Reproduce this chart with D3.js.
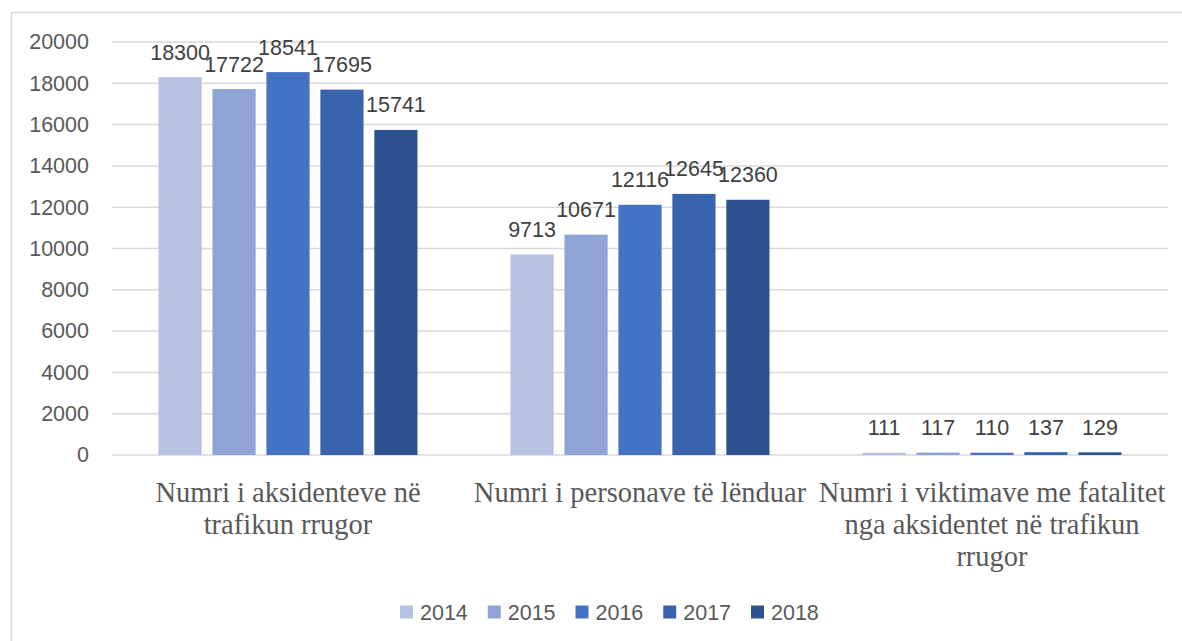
<!DOCTYPE html>
<html>
<head>
<meta charset="utf-8">
<script src="https://cdn.jsdelivr.net/npm/d3@7"></script>
<style>
  html, body { margin: 0; padding: 0; background: #ffffff; }
  svg { display: block; }
</style>
</head>
<body>
<svg id="chart" width="1182" height="641"></svg>
<script>
const categories = [
  "Numri i aksidenteve në\ntrafikun rrugor",
  "Numri i personave të lënduar",
  "Numri i viktimave me fatalitet\nnga aksidentet në trafikun\nrrugor"
];
const years = ["2014", "2015", "2016", "2017", "2018"];
const values2014 = [18300, 9713, 111];
const values2015 = [17722, 10671, 117];
const values2016 = [18541, 12116, 110];
const values2017 = [17695, 12645, 137];
const values2018 = [15741, 12360, 129];
const yTicks = [0, 2000, 4000, 6000, 8000, 10000, 12000, 14000, 16000, 18000, 20000];
const colors = ["#b7c2e3", "#8fa4d5", "#4472c4", "#3a63ad", "#2f5290"];

const series = [values2014, values2015, values2016, values2017, values2018];

const svg = d3.select("#chart");
const sansFont = "'Liberation Sans', Arial, sans-serif";
const numSize = 21.5;

// outer border of the chart area
svg.append("rect")
  .attr("x", 11.5).attr("y", 12.5)
  .attr("width", 1200).attr("height", 700)
  .attr("fill", "none").attr("stroke", "#d9d9d9").attr("stroke-width", 1.5);

const x0 = d3.scaleBand().domain(categories).range([112, 1168]).padding(0);
const groupPad = 46.5;
const x1 = d3.scaleBand().domain(years)
  .range([groupPad, x0.bandwidth() - groupPad])
  .paddingInner(0.2).paddingOuter(0);
const y = d3.scaleLinear().domain([0, 20000]).range([455, 42]);

// gridlines
svg.append("g").selectAll("line").data(yTicks).join("line")
  .attr("x1", 112).attr("x2", 1168)
  .attr("y1", d => y(d)).attr("y2", d => y(d))
  .attr("stroke", "#d9d9d9").attr("stroke-width", 1.5);

// y axis labels
const yAxis = d3.axisLeft(y).tickValues(yTicks).tickSize(0).tickPadding(0).tickFormat(d3.format("d"));
const yg = svg.append("g").attr("transform", "translate(89,0)").call(yAxis);
yg.select(".domain").remove();
yg.selectAll("text")
  .attr("font-family", sansFont)
  .attr("font-size", numSize)
  .attr("fill", "#595959");

// bars
const groups = svg.append("g").selectAll("g").data(categories).join("g")
  .attr("transform", d => `translate(${x0(d)},0)`);

groups.each(function(cat, ci) {
  const g = d3.select(this);
  const rows = years.map((yr, si) => ({ yr, v: series[si][ci], c: colors[si] }));
  g.selectAll("rect").data(rows).join("rect")
    .attr("x", d => x1(d.yr))
    .attr("width", x1.bandwidth())
    .attr("y", d => y(d.v))
    .attr("height", d => y(0) - y(d.v))
    .attr("fill", d => d.c);
  g.selectAll("text.lbl").data(rows).join("text")
    .attr("class", "lbl")
    .attr("x", d => x1(d.yr) + x1.bandwidth() / 2)
    .attr("y", d => y(d.v) - 25)
    .attr("dy", "0.35em")
    .attr("text-anchor", "middle")
    .attr("font-family", sansFont)
    .attr("font-size", numSize)
    .attr("fill", "#404040")
    .text(d => d.v);
});

// category labels (line breaks as in the original)
const catFont = 28.5;
const catG = svg.append("g");
categories.forEach(cat => {
  const cx = x0(cat) + x0.bandwidth() / 2;
  const t = catG.append("text")
    .attr("x", cx)
    .attr("y", 492)
    .attr("text-anchor", "middle")
    .attr("font-family", "'Liberation Serif', 'Times New Roman', serif")
    .attr("font-size", catFont)
    .attr("fill", "#595959");
  cat.split("\n").forEach((l, i) => {
    t.append("tspan")
      .attr("x", cx)
      .attr("dy", i === 0 ? "0.35em" : 32)
      .text(l);
  });
});

// legend
const lx = d3.scaleBand().domain(years).range([400, 400 + 5 * 87.75]);
const leg = svg.append("g").selectAll("g").data(years).join("g")
  .attr("transform", d => `translate(${lx(d)},612)`);
leg.append("rect")
  .attr("x", 0).attr("y", -6.5).attr("width", 13).attr("height", 13)
  .attr("fill", (d, i) => colors[i]);
leg.append("text")
  .attr("x", 20).attr("y", 0).attr("dy", "0.35em")
  .attr("font-family", sansFont)
  .attr("font-size", numSize)
  .attr("fill", "#595959")
  .text(d => d);
</script>
</body>
</html>
